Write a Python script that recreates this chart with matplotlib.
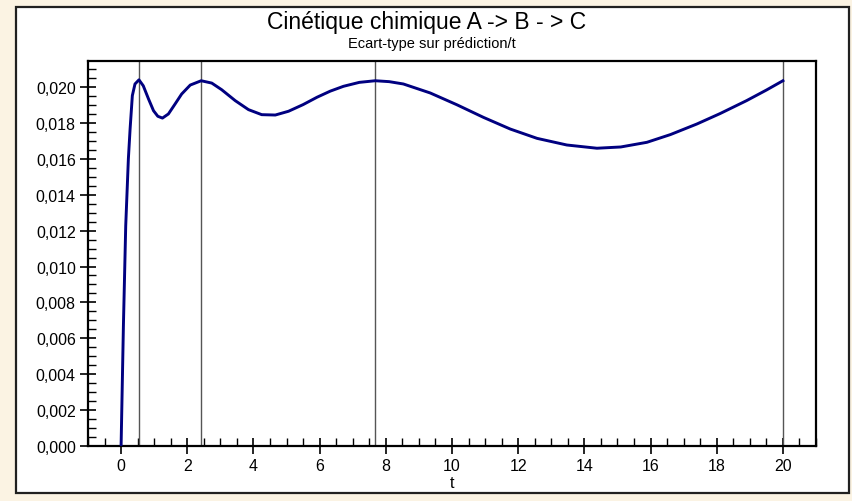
import matplotlib
matplotlib.use("Agg")
import matplotlib.pyplot as plt
from matplotlib.patches import Rectangle
from matplotlib.ticker import MultipleLocator, FuncFormatter

plt.rcParams['font.family'] = ['Liberation Sans', 'DejaVu Sans']

# values
t = [0.0, 0.07, 0.14, 0.22, 0.272, 0.34, 0.42, 0.54, 0.67, 0.83, 0.98, 1.11,
     1.25, 1.43, 1.63, 1.83, 2.09, 2.42, 2.74, 3.04, 3.45, 3.85, 4.25, 4.66,
     5.06, 5.5, 5.92, 6.32, 6.72, 7.2, 7.68, 8.1, 8.53, 9.34, 10.15, 10.95,
     11.76, 12.57, 13.47, 14.38, 15.1, 15.89, 16.6, 17.4, 18.1, 18.9, 19.5,
     20.0]
sd = [0.0, 0.0067, 0.01227, 0.0160, 0.01766, 0.01952, 0.02017, 0.0204, 0.02007,
      0.01933, 0.01868, 0.01837, 0.01827, 0.0185, 0.01905, 0.01961, 0.02011,
      0.02035, 0.02022, 0.01985, 0.01924, 0.01874, 0.01846, 0.01844, 0.01865,
      0.01902, 0.01943, 0.01977, 0.02004, 0.02026, 0.02035, 0.0203, 0.02017,
      0.01967, 0.01901, 0.01831, 0.01766, 0.01714, 0.01677, 0.01659, 0.01666,
      0.01692, 0.01735, 0.01794, 0.01852, 0.01924, 0.01983, 0.02035]
vlines = [0.54, 2.42, 7.68, 20.0]

fig = plt.figure(figsize=(8.53, 5.02), dpi=100)
fig.patch.set_facecolor('#fbf3e3')

# white frame around the chart
frame = Rectangle((16 / 853, 8 / 502), 833 / 853, 486 / 502, transform=fig.transFigure,
                  facecolor='white', edgecolor='#202020', linewidth=1.6, zorder=-5)
fig.patches.append(frame)

ax = fig.add_axes([88 / 853, 55 / 502, 728 / 853, 385 / 502])
ax.plot(t, sd, color='#000080', linewidth=2.1, zorder=3)
for xv in vlines:
    ax.axvline(xv, color='#555555', linewidth=1.0, zorder=2)

ax.set_xlim(-1, 21)
ax.set_ylim(0, 0.02145)

ax.xaxis.set_major_locator(MultipleLocator(2))
ax.xaxis.set_minor_locator(MultipleLocator(0.5))
ax.yaxis.set_major_locator(MultipleLocator(0.002))
ax.yaxis.set_minor_locator(MultipleLocator(0.0005))
ax.yaxis.set_major_formatter(FuncFormatter(lambda v, p: '{:.3f}'.format(v).replace('.', ',')))
ax.xaxis.set_major_formatter(FuncFormatter(lambda v, p: '{:g}'.format(v)))

ax.tick_params(which='major', direction='inout', length=11.5, width=1.2, labelsize=11.5, pad=3)
ax.tick_params(which='minor', direction='in', length=5.8, width=1.0)
ax.tick_params(top=False, right=False, which='both')
for s in ax.spines.values():
    s.set_linewidth(1.6)

ax.set_xlabel('t', fontsize=11.5, labelpad=1)

fig.text(0.5, 1 - 23 / 502, 'Cinétique chimique A -> B - > C', ha='center', va='center', fontsize=16.5)
fig.text(432 / 853, 1 - 44 / 502, 'Ecart-type sur prédiction/t', ha='center', va='center', fontsize=10.5)

fig.savefig('out.png', dpi=100, facecolor=fig.get_facecolor())
